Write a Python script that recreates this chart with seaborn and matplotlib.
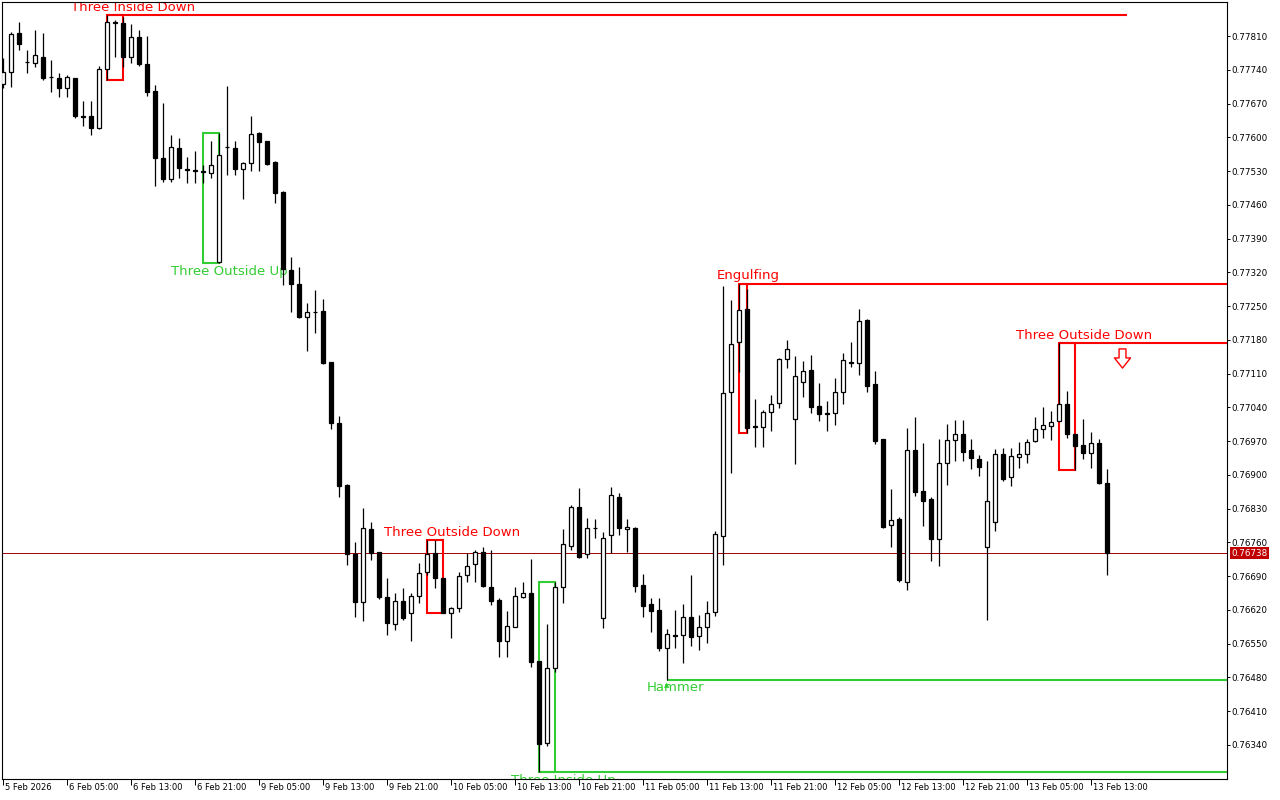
import numpy as np
import matplotlib
matplotlib.use("Agg")
import matplotlib.pyplot as plt
import matplotlib.transforms as mtransforms
from matplotlib.patches import Rectangle
from matplotlib.path import Path
import seaborn as sns

# H1 candles, 5 Feb 2026 21:00 .. 13 Feb 15:00
opens = [
    0.77710, 0.77735, 0.77816, 0.77757, 0.77754, 0.77766, 0.77725, 0.77723, 0.77702, 0.77723,
    0.77644, 0.77644, 0.77619, 0.77742, 0.77837, 0.77837, 0.77766, 0.77808, 0.77752, 0.77696,
    0.77557, 0.77513, 0.77578, 0.77534, 0.77532, 0.77530, 0.77526, 0.77341, 0.77580, 0.77578,
    0.77534, 0.77547, 0.77609, 0.77592, 0.77549, 0.77487, 0.77325, 0.77296, 0.77227, 0.77238,
    0.77240, 0.77134, 0.77008, 0.76879, 0.76736, 0.76636, 0.76788, 0.76740, 0.76647, 0.76591,
    0.76638, 0.76614, 0.76649, 0.76699, 0.76738, 0.76686, 0.76614, 0.76624, 0.76692, 0.76715,
    0.76740, 0.76668, 0.76641, 0.76556, 0.76585, 0.76647, 0.76655, 0.76514, 0.76344, 0.76500,
    0.76668, 0.76753, 0.76833, 0.76736, 0.76790, 0.76603, 0.76775, 0.76854, 0.76788, 0.76790,
    0.76672, 0.76632, 0.76620, 0.76541, 0.76568, 0.76568, 0.76605, 0.76566, 0.76585, 0.76616,
    0.76773, 0.77072, 0.77176, 0.77244, 0.77001, 0.76999, 0.77030, 0.77049, 0.77140, 0.77016,
    0.77093, 0.77117, 0.77043, 0.77028, 0.77028, 0.77072, 0.77134, 0.77132, 0.77221, 0.77088,
    0.76974, 0.76796, 0.76809, 0.76678, 0.76952, 0.76867, 0.76850, 0.76767, 0.76925, 0.76972,
    0.76985, 0.76952, 0.76933, 0.76750, 0.76802, 0.76943, 0.76896, 0.76937, 0.76943, 0.76970,
    0.76995, 0.77001, 0.77012, 0.77047, 0.76985, 0.76962, 0.76945, 0.76966, 0.76883,
]
highs = [
    0.77764, 0.77818, 0.77839, 0.77781, 0.77822, 0.77816, 0.77760, 0.77733, 0.77729, 0.77723,
    0.77675, 0.77675, 0.77748, 0.77853, 0.77843, 0.77849, 0.77835, 0.77822, 0.77810, 0.77708,
    0.77671, 0.77605, 0.77598, 0.77559, 0.77572, 0.77542, 0.77592, 0.77609, 0.77706, 0.77592,
    0.77549, 0.77644, 0.77611, 0.77592, 0.77551, 0.77489, 0.77352, 0.77331, 0.77256, 0.77283,
    0.77265, 0.77134, 0.77022, 0.76881, 0.76761, 0.76831, 0.76802, 0.76740, 0.76686, 0.76655,
    0.76665, 0.76655, 0.76717, 0.76765, 0.76765, 0.76686, 0.76626, 0.76699, 0.76738, 0.76744,
    0.76750, 0.76744, 0.76645, 0.76618, 0.76668, 0.76678, 0.76726, 0.76514, 0.76591, 0.76678,
    0.76788, 0.76838, 0.76873, 0.76811, 0.76809, 0.76782, 0.76875, 0.76862, 0.76809, 0.76792,
    0.76694, 0.76645, 0.76645, 0.76580, 0.76620, 0.76632, 0.76692, 0.76609, 0.76638, 0.76784,
    0.77292, 0.77263, 0.77296, 0.77285, 0.77057, 0.77035, 0.77066, 0.77142, 0.77180, 0.77146,
    0.77136, 0.77149, 0.77090, 0.77053, 0.77101, 0.77153, 0.77176, 0.77244, 0.77223, 0.77115,
    0.76974, 0.76871, 0.76813, 0.76997, 0.77020, 0.76966, 0.76854, 0.76974, 0.77005, 0.77014,
    0.77014, 0.76974, 0.76941, 0.76929, 0.76954, 0.76956, 0.76956, 0.76968, 0.76974, 0.77020,
    0.77041, 0.77032, 0.77173, 0.77074, 0.76985, 0.77016, 0.76989, 0.76974, 0.76912,
]
lows = [
    0.77702, 0.77704, 0.77781, 0.77733, 0.77746, 0.77719, 0.77694, 0.77683, 0.77683, 0.77640,
    0.77623, 0.77605, 0.77617, 0.77719, 0.77766, 0.77746, 0.77754, 0.77748, 0.77686, 0.77499,
    0.77507, 0.77507, 0.77516, 0.77505, 0.77505, 0.77505, 0.77516, 0.77339, 0.77522, 0.77522,
    0.77472, 0.77530, 0.77530, 0.77543, 0.77464, 0.77294, 0.77238, 0.77225, 0.77157, 0.77194,
    0.77130, 0.76995, 0.76854, 0.76713, 0.76605, 0.76597, 0.76723, 0.76643, 0.76568, 0.76578,
    0.76599, 0.76556, 0.76634, 0.76692, 0.76665, 0.76614, 0.76562, 0.76616, 0.76678, 0.76678,
    0.76668, 0.76630, 0.76522, 0.76522, 0.76584, 0.76645, 0.76502, 0.76284, 0.76338, 0.76491,
    0.76634, 0.76744, 0.76728, 0.76728, 0.76769, 0.76582, 0.76738, 0.76775, 0.76740, 0.76657,
    0.76605, 0.76574, 0.76535, 0.76475, 0.76541, 0.76510, 0.76545, 0.76537, 0.76551, 0.76607,
    0.76713, 0.76904, 0.77113, 0.76987, 0.76958, 0.76958, 0.76991, 0.77039, 0.77122, 0.76923,
    0.77061, 0.77028, 0.77012, 0.76991, 0.77003, 0.77047, 0.77124, 0.77107, 0.77072, 0.76964,
    0.76790, 0.76750, 0.76678, 0.76661, 0.76856, 0.76794, 0.76721, 0.76711, 0.76879, 0.76929,
    0.76929, 0.76912, 0.76898, 0.76599, 0.76784, 0.76887, 0.76877, 0.76914, 0.76925, 0.76968,
    0.76976, 0.76972, 0.77011, 0.76976, 0.76910, 0.76933, 0.76914, 0.76882, 0.76692,
]
closes = [
    0.77735, 0.77814, 0.77793, 0.77756, 0.77771, 0.77723, 0.77724, 0.77702, 0.77725, 0.77644,
    0.77643, 0.77619, 0.77742, 0.77839, 0.77838, 0.77766, 0.77808, 0.77752, 0.77694, 0.77557,
    0.77513, 0.77580, 0.77536, 0.77533, 0.77531, 0.77529, 0.77542, 0.77563, 0.77579, 0.77534,
    0.77547, 0.77607, 0.77590, 0.77545, 0.77484, 0.77327, 0.77296, 0.77227, 0.77238, 0.77237,
    0.77132, 0.77008, 0.76877, 0.76736, 0.76636, 0.76790, 0.76738, 0.76647, 0.76593, 0.76638,
    0.76603, 0.76649, 0.76697, 0.76736, 0.76686, 0.76614, 0.76624, 0.76690, 0.76711, 0.76740,
    0.76670, 0.76638, 0.76556, 0.76587, 0.76649, 0.76655, 0.76512, 0.76342, 0.76500, 0.76668,
    0.76757, 0.76833, 0.76730, 0.76790, 0.76789, 0.76769, 0.76858, 0.76790, 0.76792, 0.76670,
    0.76628, 0.76618, 0.76541, 0.76570, 0.76567, 0.76605, 0.76564, 0.76585, 0.76614, 0.76777,
    0.77070, 0.77171, 0.77242, 0.76997, 0.77000, 0.77030, 0.77047, 0.77140, 0.77161, 0.77105,
    0.77115, 0.77041, 0.77026, 0.77027, 0.77072, 0.77138, 0.77133, 0.77219, 0.77084, 0.76970,
    0.76792, 0.76806, 0.76682, 0.76952, 0.76864, 0.76846, 0.76767, 0.76925, 0.76972, 0.76985,
    0.76947, 0.76935, 0.76916, 0.76846, 0.76943, 0.76891, 0.76939, 0.76943, 0.76968, 0.76995,
    0.77003, 0.77010, 0.77047, 0.76985, 0.76960, 0.76945, 0.76966, 0.76883, 0.76738,
]

time_labels = ["5 Feb 2026", "6 Feb 05:00", "6 Feb 13:00", "6 Feb 21:00", "9 Feb 05:00",
               "9 Feb 13:00", "9 Feb 21:00", "10 Feb 05:00", "10 Feb 13:00", "10 Feb 21:00",
               "11 Feb 05:00", "11 Feb 13:00", "11 Feb 21:00", "12 Feb 05:00", "12 Feb 13:00",
               "12 Feb 21:00", "13 Feb 05:00", "13 Feb 13:00"]
time_label_bars = [0, 8, 16, 24, 32, 40, 48, 56, 64, 72, 80, 88, 96, 104, 112, 120, 128, 136]
price_ticks = [0.77810, 0.77740, 0.77670, 0.77600, 0.77530, 0.77460, 0.77390, 0.77320,
               0.77250, 0.77180, 0.77110, 0.77040, 0.76970, 0.76900, 0.76830, 0.76760,
               0.76690, 0.76620, 0.76550, 0.76480, 0.76410, 0.76340]

# candlestick patterns found by the indicator
pattern_names = ["Three Inside Down", "Three Outside Up", "Three Outside Down", "Three Inside Up",
                 "Hammer", "Engulfing", "Three Outside Down"]
pattern_first = [13, 25, 53, 67, 83, 92, 132]
pattern_last = [15, 27, 55, 69, 83, 93, 134]
pattern_bullish = [False, True, False, True, True, False, False]

# layout only
label_shift = [2.2, 2.25, 2.1, 2.0, 1.1, 0.6, 2.1]
line_end = [140.5, None, None, 153, 153, 153, 153]

RED = "#ff0000"
GREEN = "#32cd32"

sns.set_theme(style="white")
plt.rcParams["font.family"] = ["DejaVu Sans"]

fig = plt.figure(figsize=(12.8, 8), dpi=100)
ax = fig.add_axes([2 / 1280, 21 / 800, 1225 / 1280, 777 / 800])
ax.set_axisbelow(False)  # seaborn style puts the axis at zorder 0.5

o = np.array(opens)
c = np.array(closes)
idx = np.arange(len(o))
up = c >= o
bottom = np.minimum(o, c)
height = np.abs(c - o)

# current price line
ax.axhline(closes[-1], color="#a40000", lw=0.7, zorder=1)

# pattern boxes, levels and labels
for name, a, b, bull, shift, end in zip(pattern_names, pattern_first, pattern_last,
                                        pattern_bullish, label_shift, line_end):
    color = GREEN if bull else RED
    hi = max(highs[a:b + 1])
    lo = min(lows[a:b + 1])
    level = lo if bull else hi
    if b > a:
        ax.add_patch(Rectangle((a, lo), b - a, hi - lo, fill=False, ec=color, lw=1.5, zorder=2))
    if end is not None:
        ax.plot([a, end], [level, level], color=color, lw=1.5, zorder=2, solid_capstyle="butt")
    t = ax.annotate(name, ((a + b) / 2 + shift, level), xytext=(0, -8 if bull else 8),
                    textcoords="offset pixels", ha="center", va="center", color=color,
                    fontsize=9.5, annotation_clip=False, zorder=1.5)
    t.set_clip_box(ax.bbox)
    t.set_clip_on(True)

# white strip under the plot so labels sitting on the edge get cut like in the terminal
ax.add_patch(Rectangle((0, -0.03), 1, 0.03, transform=ax.transAxes, clip_on=False,
                       fc="white", ec="none", zorder=1.6))

# hammer arrow
ax.annotate("\u25B2", (pattern_first[4], lows[pattern_first[4]]), xytext=(0, -5),
            textcoords="offset pixels", ha="center", va="center", color=GREEN, fontsize=5)

# sell arrow under the last Three Outside Down level
arrow_down = Path([(-0.18, 0.5), (0.18, 0.5), (0.18, 0.03), (0.42, 0.03), (0.0, -0.5),
                   (-0.42, 0.03), (-0.18, 0.03), (-0.18, 0.5)], closed=True)
below = ax.transData + mtransforms.ScaledTranslation(0, -14.5 / 100, fig.dpi_scale_trans)
sns.scatterplot(x=[139.9], y=[max(highs[132:135])], marker=arrow_down, s=190, color="white",
                edgecolor=RED, linewidth=1.0, transform=below, zorder=5, legend=False, ax=ax)

# candles
ax.vlines(idx, lows, highs, color="black", lw=0.9, zorder=3)
ax.bar(idx[up], height[up], bottom=bottom[up], width=0.55, color="white",
       edgecolor="black", lw=0.9, zorder=4)
ax.bar(idx[~up], height[~up], bottom=bottom[~up], width=0.55, color="black",
       edgecolor="black", lw=0.9, zorder=4)

ax.set_xlim(-0.125, 153)
ax.set_ylim(0.762695, 0.778805)

for s in ax.spines.values():
    s.set_color("black")
    s.set_linewidth(0.8)

ax.yaxis.tick_right()
ax.set_yticks(price_ticks)
ax.set_yticklabels([f"{v:.5f}" for v in price_ticks])
ax.tick_params(axis="y", direction="out", length=2.5, width=0.7, pad=1, labelsize=6.3,
               colors="black", right=True, left=False)

ax.set_xticks(time_label_bars)
ax.set_xticklabels(time_labels)
ax.tick_params(axis="x", direction="out", length=4, width=0.7, pad=-1.4, labelsize=6,
               colors="black", bottom=True)
shift_right = mtransforms.ScaledTranslation(2 / 100, 0, fig.dpi_scale_trans)
for lbl in ax.get_xticklabels():
    lbl.set_ha("left")
    lbl.set_transform(lbl.get_transform() + shift_right)

ax.set_xlabel("")
ax.set_ylabel("")

# current price tag on the scale
tag = mtransforms.blended_transform_factory(ax.transAxes, ax.transData)
ax.text(1.0035, closes[-1], f"{closes[-1]:.5f}", transform=tag, color="white", fontsize=6.3,
        ha="left", va="center", zorder=5,
        bbox=dict(boxstyle="square,pad=0.2", fc="#c00000", ec="none"))

ax.grid(False)
fig.savefig("out.png", dpi=100)
